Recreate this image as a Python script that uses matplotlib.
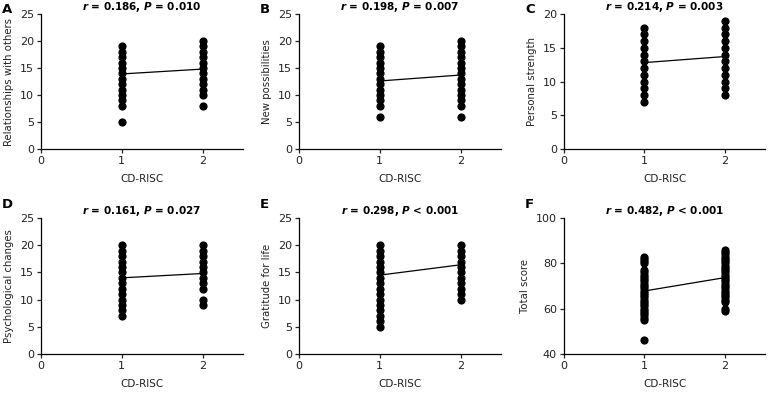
import matplotlib
matplotlib.use("Agg")
import matplotlib.pyplot as plt

plt.rcParams['font.family'] = ['DejaVu Sans']

panel_letters = ["A", "B", "C", "D", "E", "F"]
titles = [r"$\mathbfit{r}$ = 0.186, $\mathbfit{P}$ = 0.010",
          r"$\mathbfit{r}$ = 0.198, $\mathbfit{P}$ = 0.007",
          r"$\mathbfit{r}$ = 0.214, $\mathbfit{P}$ = 0.003",
          r"$\mathbfit{r}$ = 0.161, $\mathbfit{P}$ = 0.027",
          r"$\mathbfit{r}$ = 0.298, $\mathbfit{P}$ < 0.001",
          r"$\mathbfit{r}$ = 0.482, $\mathbfit{P}$ < 0.001"]
ylabels = ["Relationships with others", "New possibilities", "Personal strength",
           "Psychological changes", "Gratitude for life", "Total score"]
xlabel = "CD-RISC"

# observed score values in group 1 and group 2
a_g1 = [5] + list(range(8, 20))
a_g2 = [8] + list(range(10, 21))
b_g1 = [6] + list(range(8, 20))
b_g2 = [6] + list(range(8, 21))
c_g1 = list(range(7, 19))
c_g2 = list(range(8, 20))
d_g1 = list(range(7, 21))
d_g2 = [9, 10] + list(range(12, 21))
e_g1 = list(range(5, 21))
e_g2 = list(range(10, 21))
f_g1 = [46] + list(range(55, 78)) + [80, 81, 82, 83]
f_g2 = [59, 60] + list(range(63, 87))

group1 = [a_g1, b_g1, c_g1, d_g1, e_g1, f_g1]
group2 = [a_g2, b_g2, c_g2, d_g2, e_g2, f_g2]

# fitted line values at x=1 and x=2
fit_line = [(13.9, 14.8), (12.6, 13.7), (12.8, 13.7),
            (14.0, 14.8), (14.5, 16.4), (67.8, 73.7)]

ylims = [(0, 25), (0, 25), (0, 20), (0, 25), (0, 25), (40, 100)]
yticks = [[0, 5, 10, 15, 20, 25], [0, 5, 10, 15, 20, 25], [0, 5, 10, 15, 20],
          [0, 5, 10, 15, 20, 25], [0, 5, 10, 15, 20, 25], [40, 60, 80, 100]]
xticks = [0, 1, 2]

W, H = 769, 394
fig = plt.figure(figsize=(W / 100, H / 100), dpi=100)

lefts = [41, 299, 564]
widths = [202, 202, 201]
tops = [14, 218]
bottoms = [149, 354]
letter_y = [9.5, 205]

for i in range(6):
    r, c = divmod(i, 3)
    l = lefts[c] / W
    b = 1 - bottoms[r] / H
    w = widths[c] / W
    h = (bottoms[r] - tops[r]) / H
    ax = fig.add_axes([l, b, w, h])
    ax.plot([1] * len(group1[i]), group1[i], 'o', color='black', ms=4.9,
            mec='black', clip_on=False, zorder=3)
    ax.plot([2] * len(group2[i]), group2[i], 'o', color='black', ms=4.9,
            mec='black', clip_on=False, zorder=3)
    ax.plot([1, 2], fit_line[i], color='black', lw=0.9, zorder=4)
    ax.set_xlim(0, 2.5)
    ax.set_ylim(*ylims[i])
    ax.set_xticks(xticks)
    ax.set_yticks(yticks[i])
    for s in ['top', 'right']:
        ax.spines[s].set_visible(False)
    for s in ['left', 'bottom']:
        ax.spines[s].set_linewidth(0.9)
    ax.tick_params(direction='out', length=3, width=0.9, labelsize=8, pad=2,
                   colors='#222222')
    ax.set_xlabel(xlabel, fontsize=7.5, labelpad=6, color='#222222')
    ax.set_ylabel(ylabels[i], fontsize=7.3, labelpad=4, color='#222222')
    ax.set_title(titles[i], fontsize=7.5, fontweight='bold', pad=2.5)
    fig.text(lefts[c] / W - 39 / W, 1 - letter_y[r] / H, panel_letters[i],
             fontsize=9.5, fontweight='bold', ha='left', va='center')

fig.savefig("out.png", dpi=100)
